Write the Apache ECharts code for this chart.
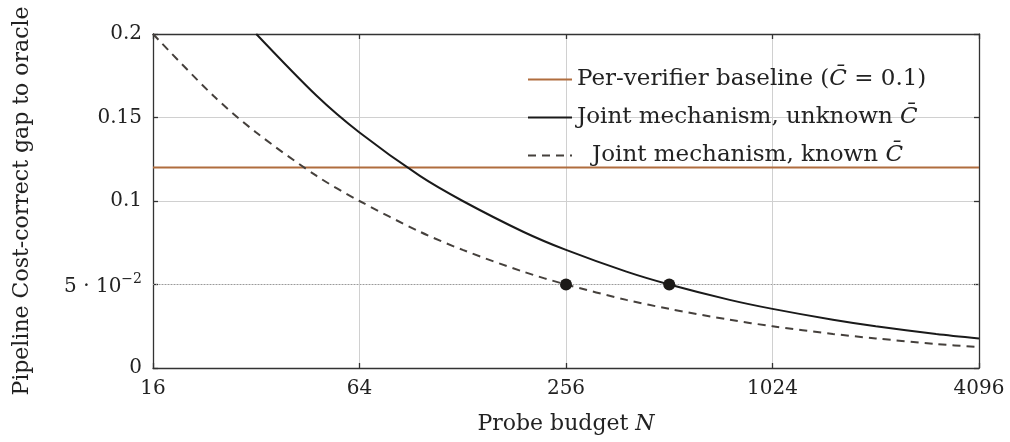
<!DOCTYPE html>
<html><head><meta charset="utf-8">
<script src="https://cdn.jsdelivr.net/npm/echarts@6/dist/echarts.min.js"></script>
<style>html,body{margin:0;padding:0;background:#fff}#c{width:1010px;height:442px}</style>
</head><body><div id="c"></div>
<script>
// Data
const budgetN = [16, 24, 32, 48, 64, 96, 128, 192, 256, 384, 512, 768, 1024, 1536, 2048, 3072, 4096];
const knownC = [0.2, 0.163, 0.141, 0.115, 0.1, 0.0816, 0.0707, 0.0577, 0.05, 0.0408, 0.0354, 0.0289, 0.025, 0.0204, 0.0177, 0.0144, 0.0125];
const unknownN = [32, 48, 64, 96, 128, 192, 256, 384, 512, 768, 1024, 1536, 2048, 3072, 4096];
const unknownC = [0.2, 0.163, 0.141, 0.115, 0.1, 0.0816, 0.0707, 0.0577, 0.05, 0.0408, 0.0354, 0.0289, 0.025, 0.0204, 0.0177];
const baselineN = [16, 4096];
const baselineC = [0.12, 0.12];
const markerN = [256, 512];
const markerC = [0.05, 0.05];
const targetGap = 0.05;
const xTicks = [16, 64, 256, 1024, 4096];
const yTicks = [0, 0.05, 0.1, 0.15, 0.2];

const FONT = 'DejaVu Serif';
const TXT = '#222';
const zip = (a, b) => a.map((v, i) => [v, b[i]]);
const names = ['Per-verifier baseline (C̄ = 0.1)', 'Joint mechanism, unknown C̄', 'Joint mechanism, known C̄'];
const axisCol = '#333';

const chart = echarts.init(document.getElementById('c'), null, {renderer: 'canvas'});
const xBase = {
  type: 'log', logBase: 4, min: 16, max: 4096, gridIndex: 0,
  axisLine: {show: true, onZero: false, lineStyle: {color: axisCol, width: 1.3}},
  axisTick: {show: true, inside: true, length: 5, lineStyle: {color: axisCol, width: 1.3}},
  minorTick: {show: false}, splitLine: {show: false}
};
const yBase = {
  type: 'value', min: 0, max: 0.2, interval: 0.05,
  axisLine: {show: true, lineStyle: {color: axisCol, width: 1.3}},
  axisTick: {show: true, inside: true, length: 5, lineStyle: {color: axisCol, width: 1.3}},
  splitLine: {show: false}
};
const legendFmt = n => {
  if (n === names[0]) return 'Per-verifier baseline ({i|C̄} = 0.1)';
  if (n === names[1]) return 'Joint mechanism, unknown {i|C̄}';
  return '{pad|}Joint mechanism, known {i|C̄}';
};
chart.setOption({
  animation: false,
  textStyle: {fontFamily: FONT},
  grid: {left: 153, right: 31, top: 34, bottom: 74},
  legend: {
    orient: 'vertical', left: 522, top: 63, itemWidth: 44, itemHeight: 14, itemGap: 15,
    data: names, formatter: legendFmt,
    itemStyle: {opacity: 0},
    textStyle: {fontFamily: FONT, fontSize: 23, color: TXT,
      rich: {i: {fontFamily: FONT, fontSize: 23, fontStyle: 'italic', color: TXT},
             pad: {width: 15}}}
  },
  xAxis: [
    Object.assign({}, xBase, {
      position: 'bottom',
      splitLine: {show: true, lineStyle: {color: '#d0d0d0', width: 1}},
      axisLabel: {show: true, margin: 11, color: TXT, fontFamily: FONT, fontSize: 20,
        formatter: v => xTicks.includes(Math.round(v)) ? String(Math.round(v)) : ''},
      name: 'Probe budget {i|N}', nameLocation: 'middle', nameGap: 45,
      nameTextStyle: {fontFamily: FONT, fontSize: 22, color: TXT,
        rich: {i: {fontFamily: FONT, fontSize: 22, fontStyle: 'italic', color: TXT}}}
    }),
    Object.assign({}, xBase, {position: 'top', axisLabel: {show: false}})
  ],
  yAxis: [
    Object.assign({}, yBase, {
      position: 'left',
      splitLine: {show: true, lineStyle: {color: '#d0d0d0', width: 1}},
      axisLabel: {show: true, margin: 11, color: TXT, fontFamily: FONT, fontSize: 20,
        formatter: v => {
          if (Math.abs(v - 0.05) < 1e-9) return '{n|5 · 10}{s|−2}';
          if (v === 0) return '0';
          return String(+v.toFixed(2));
        },
        rich: {
          n: {fontFamily: FONT, fontSize: 20, color: TXT, verticalAlign: 'bottom', lineHeight: 24},
          s: {fontFamily: FONT, fontSize: 14, color: TXT, verticalAlign: 'top', lineHeight: 24, padding: [0, 0, 10, 0]}
        }},
      name: 'Pipeline Cost-correct gap to oracle', nameLocation: 'middle', nameGap: 120,
      nameTextStyle: {fontFamily: FONT, fontSize: 22, color: TXT}
    }),
    Object.assign({}, yBase, {position: 'right', axisLabel: {show: false}})
  ],
  series: [
    {name: names[0], type: 'line', xAxisIndex: 0, yAxisIndex: 0, data: zip(baselineN, baselineC),
      showSymbol: false, symbol: 'none', lineStyle: {color: '#b06d3e', width: 2}, itemStyle: {color: '#b06d3e'}, z: 3},
    {name: names[1], type: 'line', data: zip(unknownN, unknownC), smooth: 0.3,
      showSymbol: false, symbol: 'none', lineStyle: {color: '#1a1a1a', width: 2}, itemStyle: {color: '#1a1a1a'}, z: 4},
    {name: names[2], type: 'line', data: zip(budgetN, knownC), smooth: 0.3,
      showSymbol: false, symbol: 'none', lineStyle: {color: '#45403c', width: 2, type: [8, 6]}, itemStyle: {color: '#45403c'}, z: 4,
      markLine: {silent: true, symbol: 'none', label: {show: false},
        lineStyle: {color: '#9a9a9a', width: 1, type: [1, 2]}, data: [{yAxis: targetGap}]}},
    {name: 'markers', type: 'scatter', data: zip(markerN, markerC), symbolSize: 12,
      itemStyle: {color: '#1c1a18', opacity: 1}, z: 6}
  ]
});
</script></body></html>
